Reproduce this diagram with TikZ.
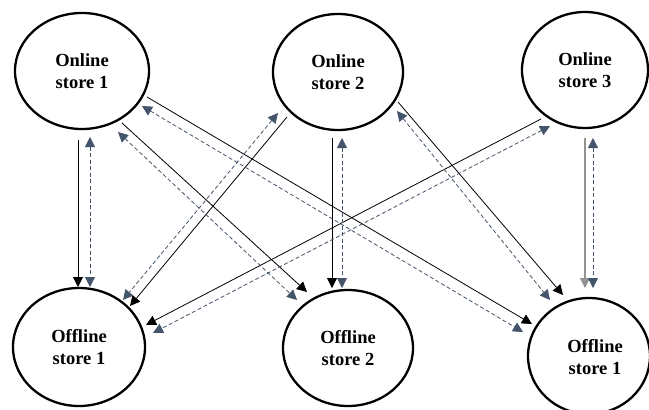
\documentclass[tikz,border=0pt]{standalone}
\usepackage{fontspec}
\setmainfont{Liberation Serif}
\usetikzlibrary{arrows.meta,shapes.geometric}
\definecolor{slate}{HTML}{44546A}
\begin{document}
\begin{tikzpicture}[x=1pt,y=-1pt,
  store/.style={draw, ellipse, line width=2.3pt, inner sep=0pt, align=center,
    font=\bfseries\fontsize{18.5}{22}\selectfont},
  flow/.style={line width=0.8pt, black, -{Triangle[length=10pt,width=10pt]}},
  info/.style={line width=0.8pt, slate, dash pattern=on 4pt off 2.5pt,
    {Triangle[length=10pt,width=10pt]}-{Triangle[length=10pt,width=10pt]}}]
\clip (0,0) rectangle (649,410);
\fill[white] (0,0) rectangle (649,410);

% stores
\node[store, minimum width=134pt, minimum height=116pt] (on1) at (82,71) {Online\\store 1};
\node[store, minimum width=130pt, minimum height=116pt] (on2) at (338,72) {Online\\store 2};
\node[store, minimum width=126pt, minimum height=116pt] (on3) at (585,70) {Online\\store 3};
\node[store, minimum width=132pt, minimum height=118pt] (off1) at (79,347) {Offline\\store 1};
\node[store, minimum width=130pt, minimum height=116pt] (off2) at (348,348) {Offline\\store 2};
\node[store, minimum width=122pt, minimum height=116pt,
  label={[xshift=6pt,yshift=-1pt,align=center,font=\bfseries\fontsize{18.5}{22}\selectfont]center:Offline\\store 1}]
  (off3) at (589,356) {};

% connector end points
\coordinate (a1) at (78,140);   \coordinate (b1) at (78,287);
\coordinate (c1) at (90,137);   \coordinate (d1) at (90,287);
\coordinate (a2) at (332,138);  \coordinate (b2) at (332,288);
\coordinate (c2) at (342,138);  \coordinate (d2) at (342,288);
\coordinate (a3) at (585,138);  \coordinate (b3) at (585,288);
\coordinate (c3) at (593,138);  \coordinate (d3) at (593,288);
\coordinate (a4) at (122,123);  \coordinate (b4) at (307,292);
\coordinate (c4) at (118,132);  \coordinate (d4) at (297,300);
\coordinate (a5) at (147,97);   \coordinate (b5) at (532,324);
\coordinate (c5) at (142,106);  \coordinate (d5) at (523,332);
\coordinate (a6) at (287,117);  \coordinate (b6) at (130,306);
\coordinate (c6) at (278,113);  \coordinate (d6) at (123,300);
\coordinate (a7) at (398,102);  \coordinate (b7) at (563,295);
\coordinate (c7) at (397,111);  \coordinate (d7) at (550,300);
\coordinate (a8) at (541,119);  \coordinate (b8) at (146,325);
\coordinate (c8) at (550,126);  \coordinate (d8) at (153,333);

% goods flows (online -> offline)
\draw[flow] (a1) -- (b1);
\draw[flow] (a2) -- (b2);
\draw[flow, draw=gray!85, line width=1.3pt] (a3) -- (b3);
\draw[flow] (a4) -- (b4);
\draw[flow] (a5) -- (b5);
\draw[flow] (a6) -- (b6);
\draw[flow] (a7) -- (b7);
\draw[flow] (a8) -- (b8);

% information flows (both ways)
\draw[info] (c1) -- (d1);
\draw[info] (c2) -- (d2);
\draw[info] (c3) -- (d3);
\draw[info] (c4) -- (d4);
\draw[info] (c5) -- (d5);
\draw[info] (c6) -- (d6);
\draw[info] (c7) -- (d7);
\draw[info] (c8) -- (d8);
\end{tikzpicture}
\end{document}
